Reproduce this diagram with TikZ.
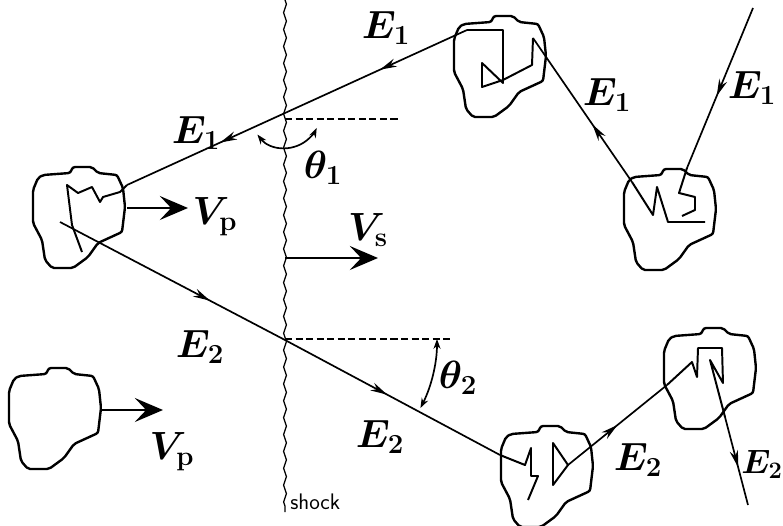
\RequirePackage{fix-cm}
\documentclass[tikz,border=0pt]{standalone}
\usepackage{amsmath}
\usepackage{tikz}
\usetikzlibrary{arrows.meta, decorations.pathmorphing, decorations.markings}

\tikzset{
  blob/.style={line width=1.7pt, line join=round, rounded corners=1.5pt},
  track/.style={line width=1.2pt},
  inner/.style={line width=1.4pt, line join=round},
  flow/.style={postaction={decorate}, decoration={markings,
      mark=at position #1 with {\arrow{Stealth[length=12pt,width=6pt]}}}},
  flowtwo/.style 2 args={postaction={decorate}, decoration={markings,
      mark=at position #1 with {\arrow{Stealth[length=12pt,width=6pt]}},
      mark=at position #2 with {\arrow{Stealth[length=12pt,width=6pt]}}}},
  bigarrow/.style={line width=1.8pt, -{Stealth[length=20pt,width=17pt,inset=8pt]}},
  lbl/.style={font=\fontsize{28}{30}\selectfont\boldmath, inner sep=0pt},
}

% one scattering cloud, centred on #1
\newcommand{\blobat}[1]{%
  \draw[blob, shift={#1}] (-36,-42) -- (-9,-44) -- (-6,-50) -- (13,-50) -- (19,-44)
    -- (38,-42) -- (44,-29) -- (46,-10) -- (43,15) -- (19,26) -- (9,40) -- (-6,51)
    -- (-27,51) -- (-34,43) -- (-37,23) -- (-46,6) -- (-46,-27) -- (-41,-39) -- cycle;}

\begin{document}
\begin{tikzpicture}[x=0.025cm, y=-0.025cm, >=Stealth]
  \useasboundingbox (0,0) rectangle (783,526);

  % clouds
  \blobat{(79,217)}
  \blobat{(500,66)}
  \blobat{(670,219)}
  \blobat{(547,476)}
  \blobat{(710,378)}
  \blobat{(55,418)}

  % shock front
  \draw[line width=0.9pt, decorate, decoration={zigzag, amplitude=1pt, segment length=12pt}]
    (285,0) -- (285,512);
  \node[anchor=west, inner sep=0pt, font=\sffamily\fontsize{16}{18}\selectfont] (shock) at (290,502) {shock};

  % track points
  \coordinate (aU) at (127,185);
  \coordinate (bIn) at (467,30);
  \coordinate (sU) at (285,113);
  \coordinate (aL) at (60,222);
  \coordinate (sL) at (285,340);
  \coordinate (dIn) at (500,455);
  \coordinate (bOut) at (533,38);
  \coordinate (cIn) at (632,182);
  \coordinate (cTop) at (687,168);
  \coordinate (eTop) at (753,8);
  \coordinate (dOut) at (568,465);
  \coordinate (eIn) at (667,385);
  \coordinate (eOut) at (725,417);
  \coordinate (eEnd) at (748,505);

  % zigzags inside the clouds
  \draw[inner] (aU) -- (120,192) -- (103,197) -- (100,202) -- (92,187) -- (78,193)
    -- (67,185) -- (72,225) -- (82,252);
  \draw[inner] (bIn) -- (503,30) -- (503,83) -- (482,63) -- (482,87) -- (503,80)
    -- (532,65) -- (bOut);
  \draw[inner] (cIn) -- (653,215) -- (657,187) -- (668,222) -- (705,222);
  \draw[inner] (cTop) -- (679,193) -- (695,197) -- (695,210) -- (682,216);
  \draw[inner] (dIn) -- (525,465) -- (531,448) -- (531,476) -- (538,476) -- (528,500);
  \draw[inner] (553,443) -- (553,485) -- (dOut) -- cycle;
  \draw[inner] (eIn) -- (692,362) -- (697,377) -- (698,348) -- (722,348) -- (723,383)
    -- (710,360) -- (eOut);

  % tracks between clouds
  \draw[track, flowtwo={0.256}{0.726}] (bIn) -- (sU) -- (aU);
  \draw[track, flowtwo={0.34}{0.743}] (aL) -- (sL) -- (dIn);
  \draw[track, flow=0.4] (cIn) -- (bOut);
  \draw[track, flow=0.55] (eTop) -- (cTop);
  \draw[track, flow=0.5] (dOut) -- (eIn);
  \draw[track, flow=0.57] (eOut) -- (eEnd);

  % normal to the shock and angles
  \coordinate (nU) at (285,119);
  \coordinate (nUend) at (398,119);
  \coordinate (nL) at (285,339);
  \coordinate (nLend) at (450,339);
  \draw[line width=1.3pt, dash pattern=on 5pt off 2.5pt] (nU) -- (nUend);
  \draw[line width=1.3pt, dash pattern=on 5pt off 2.5pt] (nL) -- (nLend);
  \draw[line width=1.2pt, {Stealth[length=7pt,width=5pt]}-{Stealth[length=7pt,width=5pt]}]
    (sU) ++(142:35) arc[start angle=142, end angle=25, radius=35];
  \draw[line width=1.2pt, {Stealth[length=7pt,width=5pt]}-{Stealth[length=7pt,width=5pt]}]
    (nL) ++(0:152) arc[start angle=0, end angle=27, radius=152];

  % velocities
  \coordinate (aR) at (127,208);
  \coordinate (vpA) at (188,208);
  \coordinate (fR) at (102,410);
  \coordinate (vpF) at (163,410);
  \coordinate (sV) at (285,258);
  \coordinate (vsEnd) at (378,258);
  \draw[bigarrow] (aR) -- (vpA);
  \draw[bigarrow] (fR) -- (vpF);
  \draw[bigarrow] (sV) -- (vsEnd);

  % labels
  \node[lbl] (e1top) at (386,28) {$E_1$};
  \node[lbl] (e1left) at (196,133) {$E_1$};
  \node[lbl] (e1bc) at (607,95) {$E_1$};
  \node[lbl] (e1in) at (752,88) {$E_1$};
  \node[lbl] (e2left) at (200,347) {$E_2$};
  \node[lbl] (e2low) at (380,437) {$E_2$};
  \node[lbl] (e2de) at (638,460) {$E_2$};
  \node[lbl, anchor=east, font=\fontsize{24}{26}\selectfont\boldmath] (e2out) at (783,464) {$E_2$};
  \node[lbl] (vpa) at (215,217) {$V_{\mathrm{p}}$};
  \node[lbl] (vpf) at (172,452) {$V_{\mathrm{p}}$};
  \node[lbl] (vs) at (368,230) {$V_{\mathrm{s}}$};
  \node[lbl] (th1) at (323,168) {$\theta_1$};
  \node[lbl] (th2) at (458,378) {$\theta_2$};
\end{tikzpicture}
\end{document}
